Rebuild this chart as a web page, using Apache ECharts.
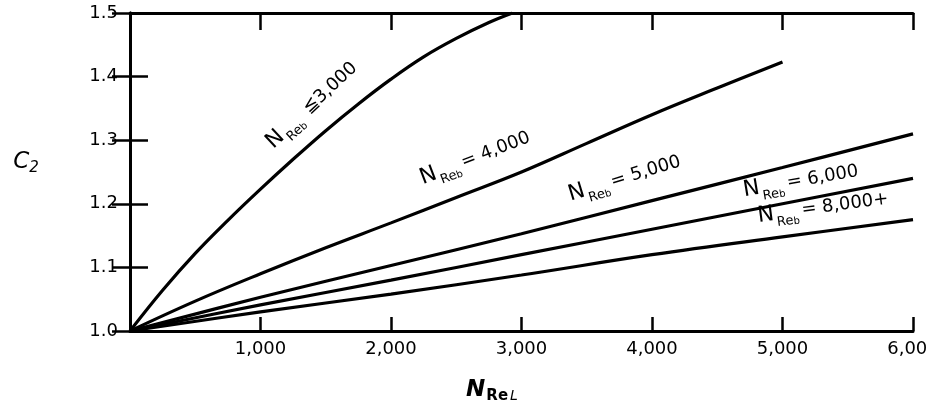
<!DOCTYPE html>
<html><head><meta charset="utf-8">
<script src="https://cdn.jsdelivr.net/npm/echarts@6/dist/echarts.min.js"></script>
<style>html,body{margin:0;padding:0;background:#fff}#c{width:928px;height:407px}</style>
</head><body><div id="c"></div>
<script>
// ---- data ----
const xTickLabels = {0: '', 1000: '1,000', 2000: '2,000', 3000: '3,000', 4000: '4,000', 5000: '5,000', 6000: '6,000'};

const x3000 = [0, 250, 500, 750, 1000, 1250, 1500, 1750, 2000, 2250, 2500, 2750, 2930];
const y3000 = [1.0, 1.064, 1.122, 1.174, 1.223, 1.270, 1.315, 1.357, 1.396, 1.431, 1.460, 1.485, 1.5];

const x4000 = [0, 500, 1000, 1500, 2000, 2500, 3000, 3500, 4000, 4500, 5000];
const y4000 = [1.0, 1.047, 1.09, 1.131, 1.17, 1.21, 1.25, 1.295, 1.34, 1.382, 1.423];

const x5000 = [0, 1000, 2000, 3000, 4000, 5000, 6000];
const y5000 = [1.0, 1.053, 1.103, 1.153, 1.205, 1.257, 1.31];

const x6000 = [0, 1000, 2000, 3000, 4000, 5000, 6000];
const y6000 = [1.0, 1.041, 1.08, 1.12, 1.16, 1.2, 1.24];

const x8000 = [0, 1000, 2000, 3000, 4000, 5000, 6000];
const y8000 = [1.0, 1.03, 1.058, 1.088, 1.12, 1.148, 1.175];

const curveNames = ' ≦3,000|= 4,000|= 5,000|= 6,000|= 8,000+'.split('|');

// ---- annotation placement (data coords) and rotation (deg) ----
const labelAnchors = [
  {x: 1395, y: 1.355, rot: 43},
  {x: 2644, y: 1.272, rot: 21},
  {x: 3790, y: 1.240, rot: 17},
  {x: 5140, y: 1.236, rot: 9.5},
  {x: 5310, y: 1.194, rot: 7.5}
];

const FONT = 'DejaVu Sans';
const pairs = (xs, ys) => xs.map((x, i) => [x, ys[i]]);
const curves = [pairs(x3000, y3000), pairs(x4000, y4000), pairs(x5000, y5000), pairs(x6000, y6000), pairs(x8000, y8000)];

const chart = echarts.init(document.getElementById('c'), null, {renderer: 'canvas'});

const axisLine = {show: true, lineStyle: {color: '#000', width: 3}};
const option = {
  backgroundColor: '#fff',
  animation: false,
  grid: {left: 130, top: 13, right: 15, bottom: 76, containLabel: false, outerBoundsMode: 'none'},
  xAxis: [
    {type: 'value', position: 'bottom', min: 0, max: 6000, interval: 1000,
     axisLine, splitLine: {show: false},
     axisTick: {show: true, inside: true, length: 14, lineStyle: {color: '#000', width: 2.5}},
     axisLabel: {color: '#000', fontFamily: FONT, fontSize: 18, margin: 9, formatter: v => xTickLabels[v] || ''}},
    {type: 'value', position: 'top', min: 0, max: 6000, interval: 1000,
     axisLine, splitLine: {show: false},
     axisTick: {show: true, inside: true, length: 17, lineStyle: {color: '#000', width: 2.5}},
     axisLabel: {show: false}}
  ],
  yAxis: [
    {type: 'value', position: 'left', min: 1.0, max: 1.5, interval: 0.1,
     axisLine, splitLine: {show: false},
     axisTick: {show: true, inside: true, length: 18, lineStyle: {color: '#000', width: 2.5}},
     axisLabel: {color: '#000', fontFamily: FONT, fontSize: 18, margin: 12, formatter: v => v.toFixed(1)}},
    {type: 'value', position: 'right', min: 1.0, max: 1.5, interval: 0.1,
     axisLine, splitLine: {show: false},
     axisTick: {show: true, inside: true, length: 18, lineStyle: {color: '#000', width: 2.5}},
     axisLabel: {show: false}}
  ],
  series: curves.map((d, i) => ({
    type: 'line', data: d, xAxisIndex: 0, yAxisIndex: 0,
    showSymbol: false, smooth: 0.4, clip: true,
    lineStyle: {color: '#000', width: 3.2}
  }))
};
chart.setOption(option);

const rich = {
  n: {fontFamily: FONT, fontSize: 22, color: '#000'},
  r: {fontFamily: FONT, fontSize: 13, color: '#000', padding: [18, 0, 0, 2]},
  b: {fontFamily: FONT, fontSize: 10, color: '#000', padding: [20, 3, 0, 0]},
  t: {fontFamily: FONT, fontSize: 18, color: '#000'}
};

const graphics = labelAnchors.map((a, i) => {
  const p = chart.convertToPixel({xAxisIndex: 0, yAxisIndex: 0}, [a.x, a.y]);
  return {
    type: 'text', x: p[0], y: p[1], rotation: a.rot * Math.PI / 180, z: 10,
    style: {text: '{n|N}{r|Re}{b|b}{t|' + curveNames[i] + '}', rich, align: 'center', verticalAlign: 'middle'}
  };
});

// axis titles
graphics.push({
  type: 'text', x: 26, y: 162, z: 10,
  style: {text: '{c|C}{s|2}', align: 'center', verticalAlign: 'middle',
    rich: {c: {fontFamily: FONT, fontSize: 23, fontStyle: 'italic', color: '#000'},
           s: {fontFamily: FONT, fontSize: 15, fontStyle: 'italic', color: '#000', padding: [12, 0, 0, 0]}}}
});
graphics.push({
  type: 'text', x: 492, y: 390, z: 10,
  style: {text: '{n|N}{r|Re}{l|L}', align: 'center', verticalAlign: 'middle',
    rich: {n: {fontFamily: FONT, fontSize: 23, fontStyle: 'italic', fontWeight: 'bold', color: '#000'},
           r: {fontFamily: FONT, fontSize: 15, fontWeight: 'bold', color: '#000', padding: [12, 0, 0, 1]},
           l: {fontFamily: FONT, fontSize: 14, fontStyle: 'italic', color: '#000', padding: [12, 0, 0, 2]}}}
});

chart.setOption({graphic: graphics});
</script>
</body></html>
